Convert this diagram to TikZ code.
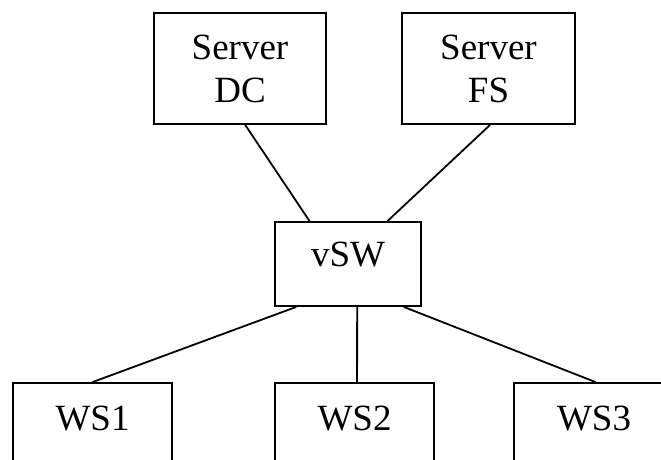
\documentclass[tikz,border=0pt]{standalone}
\usepackage{fontspec}
\setmainfont{Liberation Serif}
\usetikzlibrary{calc}
\begin{document}
\begin{tikzpicture}[x=1pt,y=-1pt,
  box/.style={draw,line width=1.8pt,inner sep=0pt,font=\fontsize{37}{43}\selectfont},
  serverbox/.style={box,align=center,minimum height=111pt},
  swbox/.style={box,minimum height=84pt,text height=24pt,text depth=19pt},
  wsbox/.style={box,minimum width=159pt,minimum height=84pt,text height=24pt,text depth=14pt},
  link/.style={line width=1.8pt}]
\useasboundingbox (0,0) rectangle (661,459);
\clip (0,0) rectangle (661,459);
\node[serverbox,minimum width=172pt] (dc) at (240,68.5) {Server\\DC};
\node[serverbox,minimum width=173pt] (fs) at (488.5,68.5) {Server\\FS};
\node[swbox,minimum width=146pt] (vsw) at (348,264) {vSW};
\node[wsbox] (ws1) at (92.5,425) {WS1};
\node[wsbox] (ws2) at (354.5,425) {WS2};
\node[wsbox,minimum width=160pt] (ws3) at (594,425) {WS3};
\draw[link] ($(dc.south west)!0.53!(dc.south east)$) -- ($(vsw.north west)!0.24!(vsw.north east)$);
\draw[link] ($(fs.south west)!0.509!(fs.south east)$) -- ($(vsw.north west)!0.767!(vsw.north east)$);
\draw[link] ($(vsw.south west)!0.15!(vsw.south east)$) -- (ws1.north);
\draw[link] ($(vsw.south west)!0.562!(vsw.south east)$) -- ($(ws2.north west)!0.516!(ws2.north east)$);
\draw[link] ($(vsw.south west)!0.877!(vsw.south east)$) -- ($(ws3.north west)!0.51!(ws3.north east)$);
\end{tikzpicture}
\end{document}
